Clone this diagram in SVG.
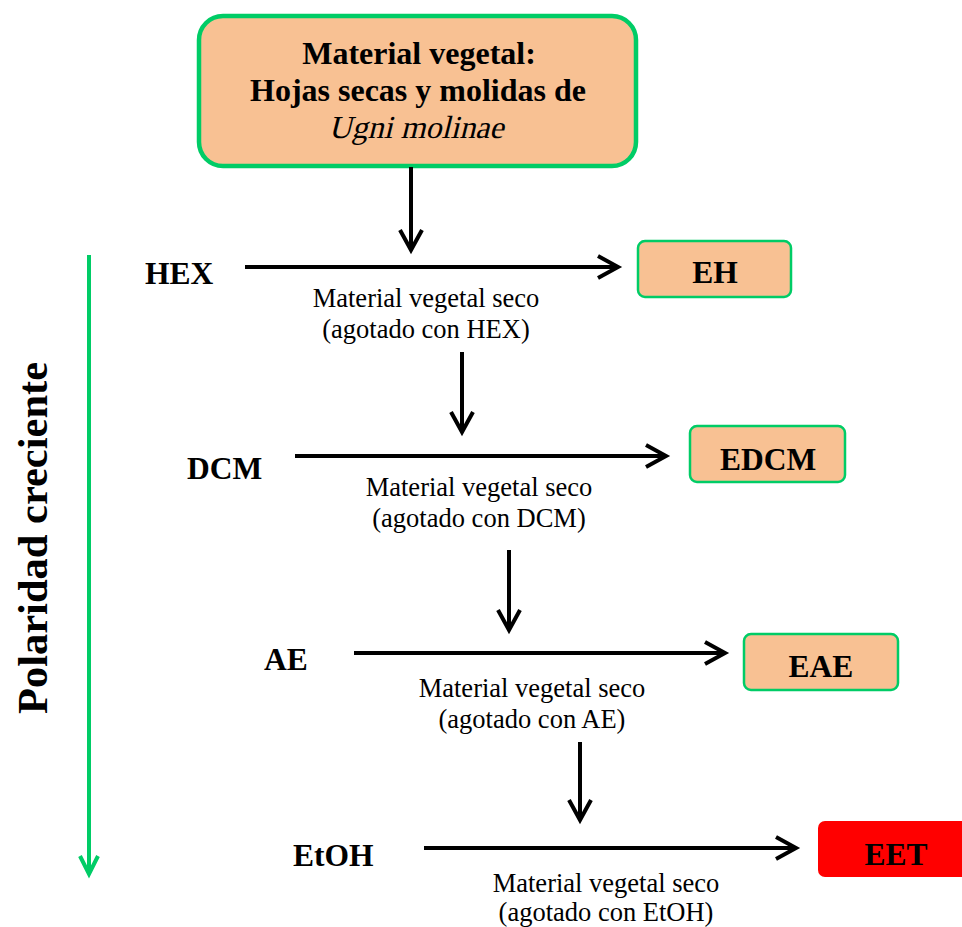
<svg xmlns="http://www.w3.org/2000/svg" width="962" height="927" viewBox="0 0 962 927">
<defs>
<style>
.t{font-family:"Liberation Serif","Times New Roman",serif;fill:#000}
.b{font-weight:bold}
.lbl{font-size:31.5px;font-weight:bold}
.sub{font-size:26.5px}
.box{fill:#F8C193;stroke:#00CC66;stroke-width:2.5}
.arr{fill:none;stroke:#000;stroke-width:4}
.head{fill:none;stroke:#000;stroke-width:4;stroke-linecap:butt;stroke-linejoin:miter}
</style>
</defs>
<rect width="962" height="927" fill="#fff"/>
<g id="top">
<rect x="199" y="16" width="437" height="150" rx="24" fill="#F8C193" stroke="#00CC66" stroke-width="4.5"/>
<text class="t b" x="419" y="64" font-size="32" text-anchor="middle">Material vegetal:</text>
<text class="t b" x="418" y="101" font-size="32" text-anchor="middle">Hojas secas y molidas de</text>
<text class="t" font-size="32" text-anchor="middle" transform="translate(416,138) skewX(-14)">Ugni molinae</text>
</g>
<g id="EH"><rect class="box" x="638" y="241" width="153" height="56" rx="7"/><text class="t lbl" x="715" y="283" text-anchor="middle">EH</text></g>
<g id="EDCM"><rect class="box" x="690" y="426" width="155" height="56" rx="7"/><text class="t lbl" x="768" y="470" text-anchor="middle">EDCM</text></g>
<g id="EAE"><rect class="box" x="744" y="634" width="154" height="56" rx="7"/><text class="t lbl" x="821" y="677" text-anchor="middle">EAE</text></g>
<g id="EET"><rect x="818" y="821" width="160" height="56" rx="7" fill="#FF0000"/><text class="t lbl" x="896" y="865" text-anchor="middle">EET</text></g>
<g id="solvents">
<text class="t lbl" x="145" y="284">HEX</text>
<text class="t lbl" x="187" y="479">DCM</text>
<text class="t lbl" x="264" y="670">AE</text>
<text class="t lbl" x="293" y="866">EtOH</text>
</g>
<g id="residues">
<text class="t sub" x="426" y="307" text-anchor="middle">Material vegetal seco</text>
<text class="t sub" x="426" y="338" text-anchor="middle">(agotado con HEX)</text>
<text class="t sub" x="479" y="496" text-anchor="middle">Material vegetal seco</text>
<text class="t sub" x="479" y="527" text-anchor="middle">(agotado con DCM)</text>
<text class="t sub" x="532" y="697" text-anchor="middle">Material vegetal seco</text>
<text class="t sub" x="532" y="728" text-anchor="middle">(agotado con AE)</text>
<text class="t sub" x="606" y="892" text-anchor="middle">Material vegetal seco</text>
<text class="t sub" x="606" y="921" text-anchor="middle">(agotado con EtOH)</text>
</g>
<g id="polaridad">
<text class="t b" font-size="42.5" transform="translate(47,538) rotate(-90)" text-anchor="middle">Polaridad creciente</text>
</g>
<g id="connectors">
<line class="arr" x1="411" y1="167" x2="411" y2="250"/>
<polyline class="head" points="400,230 411,250 422,230"/>
<line class="arr" x1="245" y1="267" x2="618" y2="267"/>
<polyline class="head" points="598,256 618,267 598,278"/>
<line class="arr" x1="462" y1="352" x2="462" y2="432"/>
<polyline class="head" points="451,412 462,432 473,412"/>
<line class="arr" x1="295" y1="456" x2="666" y2="456"/>
<polyline class="head" points="646,445 666,456 646,467"/>
<line class="arr" x1="509" y1="550" x2="509" y2="630"/>
<polyline class="head" points="498,610 509,630 520,610"/>
<line class="arr" x1="354" y1="653" x2="725" y2="653"/>
<polyline class="head" points="705,642 725,653 705,664"/>
<line class="arr" x1="580" y1="742" x2="580" y2="820"/>
<polyline class="head" points="569,800 580,820 591,800"/>
<line class="arr" x1="424" y1="848" x2="796" y2="848"/>
<polyline class="head" points="776,837 796,848 776,859"/>
<line x1="89" y1="255" x2="89" y2="874" stroke="#00CC66" stroke-width="4"/>
<polyline points="80,856 89,874 98,856" fill="none" stroke="#00CC66" stroke-width="4"/>
</g>
</svg>
